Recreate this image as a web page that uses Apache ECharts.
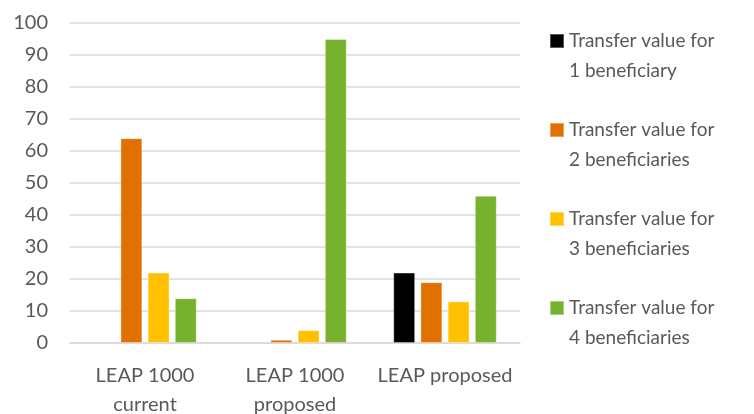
<!DOCTYPE html>
<html>
<head>
<meta charset="utf-8">
<script src="https://cdn.jsdelivr.net/npm/echarts@6/dist/echarts.min.js"></script>
<style>html,body{margin:0;padding:0;background:#fff}#c{width:754px;height:414px}</style>
</head>
<body>
<div id="c"></div>
<script>
const categories = ['LEAP 1000\ncurrent', 'LEAP 1000\nproposed', 'LEAP proposed'];
const seriesNames = ['Transfer value for\n1 beneficiary', 'Transfer value for\n2 beneficiaries', 'Transfer value for\n3 beneficiaries', 'Transfer value for\n4 beneficiaries'];
const oneBeneficiary = [null, null, 22];
const twoBeneficiaries = [64, 1, 19];
const threeBeneficiaries = [22, 4, 13];
const fourBeneficiaries = [14, 95, 46];
const yTicks = [0, 10, 20, 30, 40, 50, 60, 70, 80, 90, 100];

const colors = ['#000000', '#E07000', '#FFC000', '#77B22F'];
const values = [oneBeneficiary, twoBeneficiaries, threeBeneficiaries, fourBeneficiaries];
const font = 'Lato';

const chart = echarts.init(document.getElementById('c'));
chart.setOption({
  animation: false,
  grid: { left: 70, right: 234, top: 23, bottom: 71, containLabel: false, outerBoundsMode: 'none' },
  legend: {
    orient: 'vertical',
    left: 549,
    top: 26,
    padding: 0,
    itemWidth: 14,
    itemHeight: 44,
    itemGap: 29,
    icon: 'path://M0,0H14V14H0Z M0,44L14,44',
    data: seriesNames,
    textStyle: { fontFamily: font, fontSize: 19, color: '#595959', lineHeight: 30 }
  },
  xAxis: {
    type: 'category',
    data: categories,
    axisTick: { show: false },
    axisLine: { lineStyle: { color: '#D9D9D9', width: 1.5 } },
    axisLabel: { fontFamily: font, fontSize: 20, color: '#595959', lineHeight: 29, margin: 18, interval: 0 }
  },
  yAxis: {
    type: 'value',
    min: yTicks[0],
    max: yTicks[yTicks.length - 1],
    interval: 10,
    axisLine: { show: false },
    axisTick: { show: false },
    splitLine: { lineStyle: { color: '#D9D9D9', width: 1.5 } },
    axisLabel: { fontFamily: font, fontSize: 20, color: '#595959', margin: 22 }
  },
  series: seriesNames.map((n, i) => ({
    name: n,
    type: 'bar',
    data: values[i],
    barGap: '24%',
    barCategoryGap: '31%',
    itemStyle: { color: colors[i], borderColor: 'rgba(255,255,255,0.35)', borderWidth: 1 }
  }))
});
</script>
</body>
</html>
